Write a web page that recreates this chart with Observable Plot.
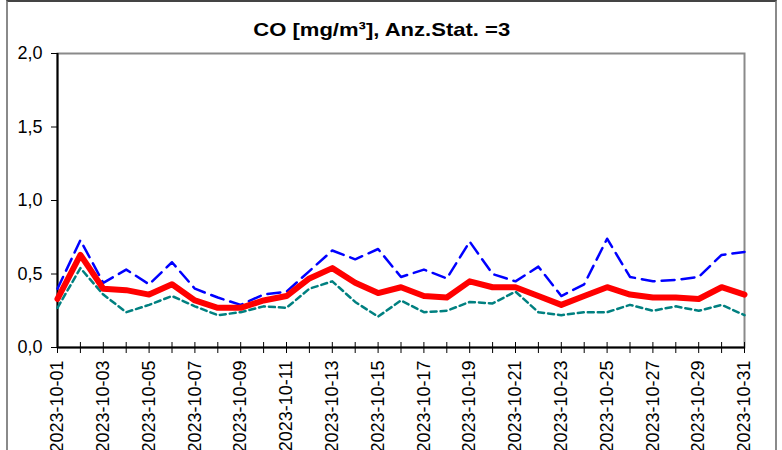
<!DOCTYPE html>
<html>
<head>
<meta charset="utf-8">
<script src="https://cdn.jsdelivr.net/npm/d3@7"></script>
<script src="https://cdn.jsdelivr.net/npm/@observablehq/plot@0.6"></script>
<style>
  html, body { margin: 0; padding: 0; width: 782px; height: 450px; overflow: hidden; background: #fff; }
  #frame {
    position: absolute; left: 6px; top: 0px; width: 767px; height: 470px;
    border: 2px solid #8a8a8a; border-top-color: #444;
  }
  #title {
    position: absolute; left: 0; top: 0; width: 764px; height: 40px;
    box-sizing: border-box; padding-top: 19px; line-height: 20px;
    text-align: center; font: bold 19px "Liberation Sans", Arial, sans-serif; color: #000;
  }
  #title span { display: inline-block; transform: scaleX(1.16); }
  #chart { position: absolute; left: 0; top: 40px; }
</style>
</head>
<body>
<div id="frame"></div>
<div id="title"><span>CO [mg/m³], Anz.Stat. =3</span></div>
<div id="chart"></div>
<script>
// Daily CO concentrations, October 2023 (3 stations)
const days = d3.utcDay.range(new Date("2023-10-01"), new Date("2023-11-01"));
const labelDays = days.filter((d, i) => i % 2 === 0);
const yTicks = [0, 0.5, 1.0, 1.5, 2.0];

const maxValues  = [0.40, 0.73, 0.44, 0.53, 0.43, 0.58, 0.40, 0.34, 0.29, 0.36, 0.38,
                    0.52, 0.66, 0.60, 0.67, 0.48, 0.53, 0.47, 0.72, 0.50, 0.45,
                    0.55, 0.35, 0.43, 0.74, 0.48, 0.45, 0.46, 0.48, 0.63, 0.65];
const meanValues = [0.33, 0.63, 0.40, 0.39, 0.36, 0.43, 0.32, 0.27, 0.27, 0.32, 0.35,
                    0.47, 0.54, 0.44, 0.37, 0.41, 0.35, 0.34, 0.45, 0.41, 0.41,
                    0.35, 0.29, 0.35, 0.41, 0.36, 0.34, 0.34, 0.33, 0.41, 0.36];
const minValues  = [0.27, 0.54, 0.36, 0.24, 0.29, 0.35, 0.28, 0.22, 0.24, 0.28, 0.27,
                    0.40, 0.45, 0.31, 0.21, 0.32, 0.24, 0.25, 0.31, 0.30, 0.38,
                    0.24, 0.22, 0.24, 0.24, 0.29, 0.25, 0.28, 0.25, 0.29, 0.22];

const rows = (values) => days.map((d, i) => ({date: d, value: values[i]}));
const fmtComma = (v) => v.toFixed(1).replace(".", ",");

const chart = Plot.plot({
  width: 782,
  height: 410,
  marginTop: 13,
  marginBottom: 103,
  marginLeft: 57,
  marginRight: 38,
  style: {fontFamily: "'Liberation Sans', Arial, sans-serif", fontSize: "18px", color: "#000", background: "transparent", overflow: "visible"},
  x: {type: "utc", domain: [days[0], days[days.length - 1]]},
  y: {domain: [0, 2]},
  marks: [
    Plot.frame({stroke: "#8a8a8a", strokeWidth: 2}),
    Plot.ruleY([0], {stroke: "#000", strokeWidth: 2}),
    Plot.ruleX([days[0]], {stroke: "#000", strokeWidth: 2}),
    Plot.axisY({ticks: yTicks, tickFormat: fmtComma, tickSize: 6, tickPadding: 9, label: null, stroke: "#000", fontSize: 18}),
    Plot.axisX({ticks: days, tickSize: 11, dy: -5, fill: "none", stroke: "#000", label: null}),
    Plot.axisX({ticks: labelDays, tickSize: 0, tickPadding: 13, tickRotate: -90,
                tickFormat: d3.utcFormat("%Y-%m-%d"), label: null, fontSize: 18}),
    Plot.line(rows(minValues), {x: "date", y: "value", stroke: "#008080", strokeWidth: 2.5, strokeDasharray: "6,4"}),
    Plot.line(rows(maxValues), {x: "date", y: "value", stroke: "#0000ff", strokeWidth: 2.5, strokeDasharray: "13,7"}),
    Plot.line(rows(meanValues), {x: "date", y: "value", stroke: "#ff0000", strokeWidth: 6, strokeLinejoin: "round"})
  ]
});
document.getElementById("chart").appendChild(chart);
</script>
</body>
</html>
